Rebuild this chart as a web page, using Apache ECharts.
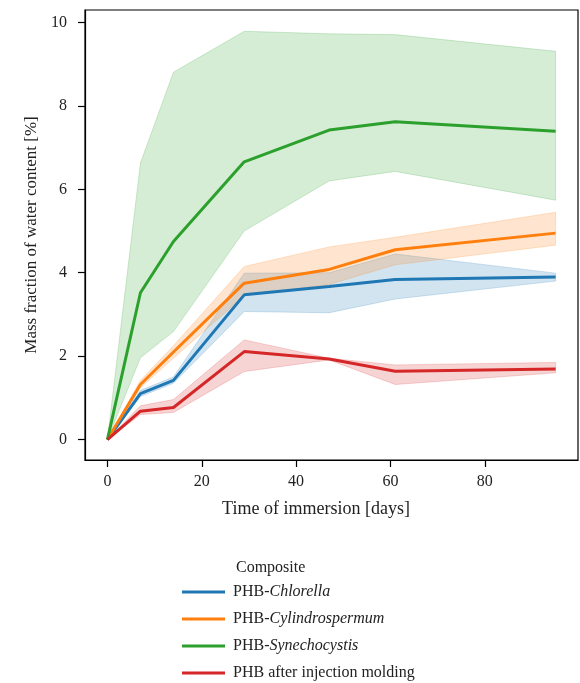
<!DOCTYPE html>
<html>
<head>
<meta charset="utf-8">
<script src="https://cdn.jsdelivr.net/npm/echarts@6/dist/echarts.min.js"></script>
<style>
  html, body { margin: 0; padding: 0; background: #fff; }
  #chart { width: 580px; height: 683px; }
</style>
</head>
<body>
<div id="chart"></div>
<script>
const days = [0, 7, 14, 29, 47, 61, 95]

const chlorella = [0, 1.10, 1.42, 3.47, 3.67, 3.84, 3.90]
const chlorellaLow = [0, 1.03, 1.35, 3.07, 3.04, 3.37, 3.80]
const chlorellaHigh = [0, 1.18, 1.50, 3.99, 4.00, 4.45, 3.99]

const cylindro = [0, 1.32, 2.10, 3.75, 4.08, 4.55, 4.95]
const cylindroLow = [0, 1.24, 1.95, 3.45, 3.72, 4.19, 4.66]
const cylindroHigh = [0, 1.42, 2.25, 4.15, 4.62, 4.85, 5.45]

const synecho = [0, 3.52, 4.75, 6.66, 7.42, 7.62, 7.39]
const synechoLow = [0, 1.96, 2.59, 5.00, 6.20, 6.43, 5.74]
const synechoHigh = [0, 6.63, 8.81, 9.79, 9.73, 9.71, 9.31]

const molded = [0, 0.68, 0.77, 2.11, 1.93, 1.64, 1.69]
const moldedLow = [0, 0.60, 0.65, 1.63, 1.91, 1.32, 1.60]
const moldedHigh = [0, 0.81, 0.96, 2.39, 1.95, 1.79, 1.85]

const names = ['PHB-Chlorella', 'PHB-Cylindrospermum', 'PHB-Synechocystis', 'PHB after injection molding']
const colors = ['#1f77b4', '#ff7f0e', '#2ca02c', '#d62728']
const xTicks = [0, 20, 40, 60, 80]
const yTicks = [0, 2, 4, 6, 8, 10]

const groups = [
  [chlorella, chlorellaLow, chlorellaHigh],
  [cylindro, cylindroLow, cylindroHigh],
  [synecho, synechoLow, synechoHigh],
  [molded, moldedLow, moldedHigh]
]

const font = 'Liberation Serif'

// band = polygon low -> high, drawn once per series
const bandRenderer = (low, high, color) => (params, api) => {
  if (params.dataIndex !== 0) return null
  const pts = []
  days.forEach((d, k) => pts.push(api.coord([d, high[k]])))
  for (let k = days.length - 1; k >= 0; k--) pts.push(api.coord([days[k], low[k]]))
  return {
    type: 'polygon',
    shape: { points: pts },
    style: { fill: color, opacity: 0.2, stroke: color, lineWidth: 1 }
  }
}

const series = []
groups.forEach(([mid, low, high], i) => {
  const color = colors[i]
  series.push({
    name: 'band' + i,
    type: 'custom',
    renderItem: bandRenderer(low, high, color),
    data: days.map((d, k) => [d, low[k], high[k]]),
    encode: { x: 0, y: [1, 2] },
    clip: true,
    silent: true
  })
  series.push({
    name: names[i],
    type: 'line',
    data: days.map((d, k) => [d, mid[k]]),
    symbol: 'none',
    color: color,
    lineStyle: { color: color, width: 3 }
  })
})

const chart = echarts.init(document.getElementById('chart'))

chart.setOption({
  animation: false,
  textStyle: { fontFamily: font },
  grid: {
    left: 85, right: 2, top: 10, bottom: 223,
    show: true, borderColor: '#000', borderWidth: 1.2
  },
  title: {
    text: 'Composite',
    left: 231, top: 555,
    textStyle: { fontFamily: font, fontSize: 16, fontWeight: 'normal', color: '#222' }
  },
  legend: {
    data: names,
    orient: 'vertical',
    left: 177, top: 577, height: 120,
    itemWidth: 43, itemHeight: 3,
    itemGap: 7,
    icon: 'rect',
    textStyle: {
      fontFamily: font, fontSize: 16, color: '#222', lineHeight: 20,
      padding: [0, 0, 0, 3],
      rich: { i: { fontFamily: font, fontSize: 16, fontStyle: 'italic', color: '#222' } }
    },
    formatter: (name) => name.replace(/^PHB-(.+)$/, 'PHB-{i|$1}')
  },
  xAxis: {
    type: 'value',
    min: -4.75, max: 99.75,
    name: 'Time of immersion [days]',
    nameLocation: 'middle',
    nameGap: 40,
    nameTextStyle: { fontFamily: font, fontSize: 18, color: '#222', padding: [0, 31, 0, 0] },
    axisLine: { show: true, onZero: false, lineStyle: { color: '#000', width: 1.2 } },
    axisTick: { show: true, length: 7, lineStyle: { color: '#000', width: 1.2 }, customValues: xTicks },
    axisLabel: { fontFamily: font, fontSize: 16, color: '#222', margin: 14, customValues: xTicks },
    splitLine: { show: false }
  },
  yAxis: {
    type: 'value',
    min: -0.49, max: 10.3,
    name: 'Mass fraction of water content [%]',
    nameLocation: 'middle',
    nameGap: 44,
    nameTextStyle: { fontFamily: font, fontSize: 17, color: '#222' },
    axisLine: { show: true, onZero: false, lineStyle: { color: '#000', width: 1.2 } },
    axisTick: { show: true, length: 7, lineStyle: { color: '#000', width: 1.2 }, customValues: yTicks },
    axisLabel: { fontFamily: font, fontSize: 16, color: '#222', margin: 18, customValues: yTicks },
    splitLine: { show: false }
  },
  series: series
})
</script>
</body>
</html>
